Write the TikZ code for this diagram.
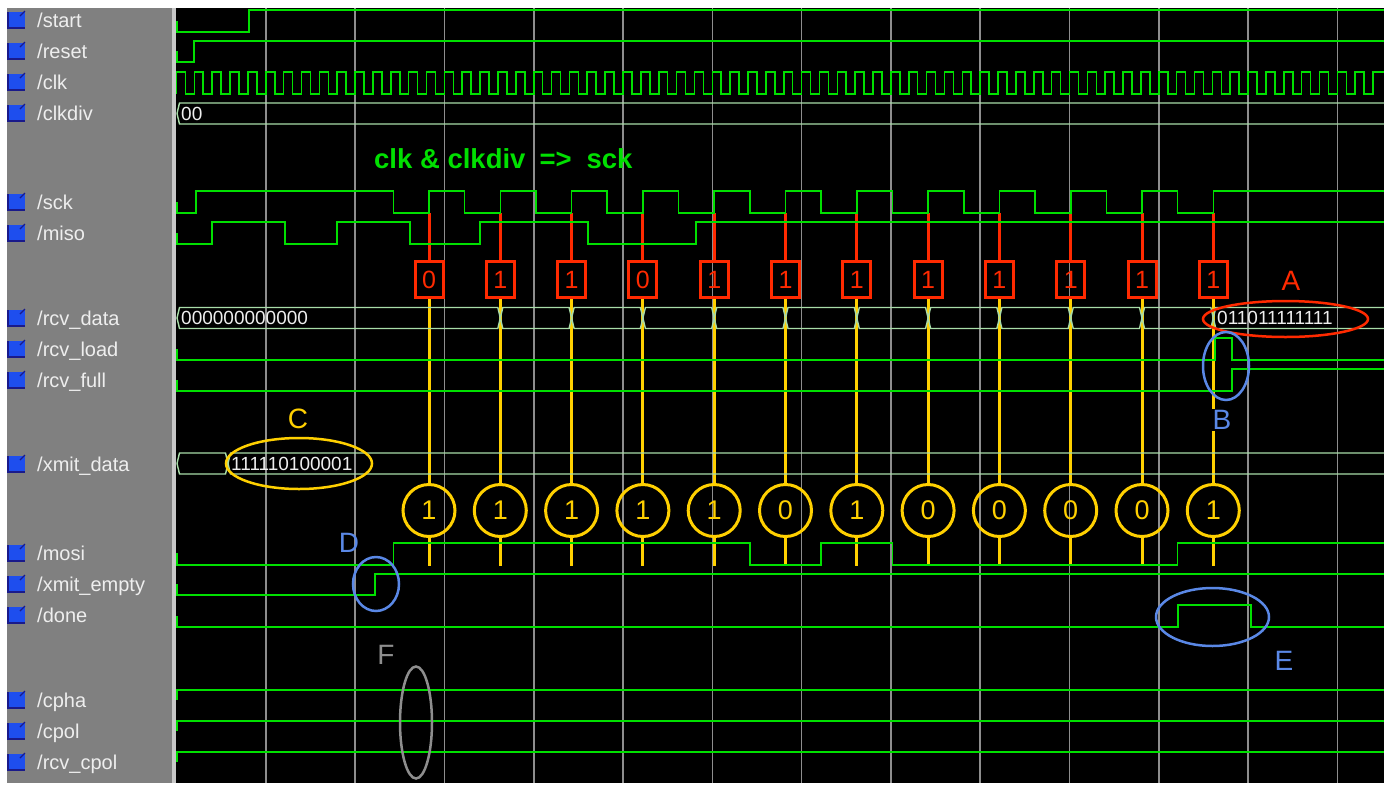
\documentclass[tikz,border=0pt]{standalone}
\usepackage{fontspec}
\setmainfont{Liberation Sans}
\usetikzlibrary{positioning}
\definecolor{signal}{HTML}{00E000}
\definecolor{busline}{HTML}{A8DCA8}
\definecolor{rxred}{HTML}{FF2A00}
\definecolor{txgold}{HTML}{FFD000}
\definecolor{note}{HTML}{5A88E6}
\definecolor{gridgray}{HTML}{8E8E8E}
\definecolor{panel}{HTML}{808080}
\definecolor{sepbar}{HTML}{C8C8C8}
\definecolor{icon}{HTML}{1E4EEE}
\definecolor{icondark}{HTML}{1A1A8A}
\definecolor{labeltext}{HTML}{EEEEEE}

\begin{document}
\begin{tikzpicture}[x=1pt, y=-1pt,
      w/.style={draw=signal, line width=1.6pt},
      b/.style={draw=busline, line width=1.4pt},
      gl/.style={draw=gridgray, line width=1.6pt},
      rx/.style={draw=rxred, line width=3pt, minimum width=28pt, minimum height=36pt,
                 inner sep=0pt, text=rxred, font=\fontsize{25}{25}\selectfont},
      tx/.style={circle, draw=txgold, line width=3pt, minimum size=52pt,
                 inner sep=0pt, text=txgold, font=\fontsize{27}{27}\selectfont},
      rl/.style={draw=rxred, line width=3pt},
      yl/.style={draw=txgold, line width=3pt},
      lbl/.style={anchor=base west, inner sep=0pt, text=labeltext,
                  font=\fontsize{20}{20}\selectfont},
      val/.style={anchor=west, inner sep=0pt, text=labeltext,
                  font=\fontsize{19}{19}\selectfont},
      tag/.style={inner sep=1pt, font=\fontsize{28}{28}\selectfont},
      ring/.style={line width=2.5pt}]
    \useasboundingbox (0,0) rectangle (1390,785);
    \fill[white] (0,0) rectangle (1390,785);
    \fill[panel] (7,8) rectangle (172,783);
    \fill[sepbar] (172,8) rectangle (176,783);
    \fill[black] (176,8) rectangle (1384,783);

    % signal names
    \foreach \yy/\nm in {20/start,51/reset,82/clk,113/clkdiv,202/sck,233/miso,
        318/rcv\_data,349/rcv\_load,380/rcv\_full,464/xmit\_data,553/mosi,
        584/xmit\_empty,615/done,700/cpha,731/cpol,762/rcv\_cpol}{
      \fill[icondark] (7,\yy-8) rectangle (25,\yy+9);
      \fill[icon] (9,\yy-8) rectangle (25,\yy+7);
      \draw[icondark, line width=1.2pt] (20,\yy-4) -- (25,\yy-9);
      \node[lbl] (n\yy) at (37,\yy+7.5) {/\nm};
    }

    % time grid
    \foreach \g in {1,...,13}
      \draw[gl] ({176.5+89.3*\g},8) -- ({176.5+89.3*\g},783);

    \node[anchor=west, inner sep=0pt, text=signal, font=\fontsize{27.5}{27.5}\selectfont\bfseries]
      (cap) at (374,159) {clk \& clkdiv\hspace{14pt}=>\hspace{15pt}sck};

    % sampled bits
    \foreach \r [count=\k] in {0,1,1,0,1,1,1,1,1,1,1,1}
      \node[rx] (rb\k) at ({429+71.3*(\k-1)},279.5) {\r};
    \foreach \t [count=\k] in {1,1,1,1,1,0,1,0,0,0,0,1}
      \node[tx] (tb\k) at ({429+71.3*(\k-1)},510.5) {\t};
    \foreach \k in {1,...,12}{
      \coordinate (sk\k) at ({429+71.3*(\k-1)},213);
      \coordinate (ms\k) at ({429+71.3*(\k-1)},566);
      \draw[rl] (sk\k) -- (rb\k);
      \draw[yl] (rb\k) -- (tb\k) (tb\k) -- (ms\k);
    }

    \begin{scope}
      \clip (176,8) rectangle (1384,783);
      % start, reset, clk
      \draw[w] (177,21) -- (177,32) -- (249,32) -- (249,10) -- (1384,10);
      \draw[w] (177,51) -- (177,62) -- (194,62) -- (194,41) -- (1384,41);
      \draw[w] (176.5,94) -- (176.5,72)
        \foreach \k in {0,...,66}{ -- ++(8.93,0) -- ++(0,22) -- ++(8.93,0) -- ++(0,-22) }
        -- (1384,72);
      % clkdiv
      \draw[b] (1384,103) -- (179.5,103) -- (177,113.5) -- (179.5,124) -- (1384,124);
      \node[val] (cdv) at (181,113.5) {00};
      % sck, miso
      \draw[w] (177,202) -- (177,213) -- (196,213) -- (196,191)
        \foreach \k in {0,...,11}{ -- ({393.35+71.3*\k},191) -- ++(0,22) -- ++(35.65,0) -- ++(0,-22) }
        -- (1384,191);
      \draw[w] (177,233) -- (177,244) -- (212,244) -- (212,222) -- (285,222) -- (285,244)
        -- (337,244) -- (337,222) -- (410,222) -- (410,244) -- (480,244) -- (480,222)
        -- (588,222) -- (588,244) -- (696,244) -- (696,222) -- (1384,222);
      % rcv_data
      \draw[b] (177,318) -- (179.5,307.5) -- (497.8,307.5) -- (500.3,318)
        -- (497.8,328.5) -- (179.5,328.5) -- cycle;
      \foreach \k in {1,...,10}
        \draw[b] ({429+71.3*\k},318) -- ++(2.5,-10.5) -- ({426.5+71.3*(\k+1)},307.5)
          -- ({429+71.3*(\k+1)},318) -- ({426.5+71.3*(\k+1)},328.5)
          -- ({431.5+71.3*\k},328.5) -- cycle;
      \draw[b] (1384,307.5) -- (1215.8,307.5) -- (1213.3,318) -- (1215.8,328.5) -- (1384,328.5);
      \node[val] (rcv0) at (181,318) {000000000000};
      \node[val] (rcv1) at (1217,318) {011011111111};
      % rcv_load, rcv_full
      \draw[w] (177,349) -- (177,360) -- (1215,360) -- (1215,338) -- (1232,338)
        -- (1232,360) -- (1384,360);
      \draw[w] (177,380) -- (177,391) -- (1232,391) -- (1232,369) -- (1384,369);
      % xmit_data
      \draw[b] (177,463.5) -- (179.5,453) -- (225.5,453) -- (228,463.5) -- (225.5,474)
        -- (179.5,474) -- cycle;
      \draw[b] (1384,453) -- (230.5,453) -- (228,463.5) -- (230.5,474) -- (1384,474);
      \node[val] (xmt) at (231,463.5) {111110100001};
      % mosi, xmit_empty, done
      \draw[w] (177,553) -- (177,565) -- (393.35,565) -- (393.35,543) -- (749.85,543)
        -- (749.85,565) -- (821.15,565) -- (821.15,543) -- (892.45,543) -- (892.45,565)
        -- (1177.65,565) -- (1177.65,543) -- (1384,543);
      \draw[w] (177,584) -- (177,595) -- (375,595) -- (375,574) -- (1384,574);
      \draw[w] (177,616) -- (177,627) -- (1178,627) -- (1178,605) -- (1251,605)
        -- (1251,627) -- (1384,627);
      % cpha, cpol, rcv_cpol
      \draw[w] (177,700) -- (177,690) -- (1384,690);
      \draw[w] (177,731) -- (177,721) -- (1384,721);
      \draw[w] (177,762) -- (177,752) -- (1384,752);
    \end{scope}

    % notes
    \draw[ring, rxred] (1285.5,319) ellipse (82.5 and 18);
    \draw[ring, note] (1226,366) ellipse (23 and 34);
    \draw[ring, txgold] (299,463.5) ellipse (73 and 25.5);
    \draw[ring, note] (376,584) ellipse (23 and 27);
    \draw[ring, note] (1212.5,617) ellipse (56.5 and 29);
    \draw[ring, gridgray] (416,722.5) ellipse (16 and 56);
    \node[tag, text=rxred] (tA) at (1291,281) {A};
    \node[tag, text=note, fill=black] (tB) at (1222,420) {B};
    \node[tag, text=txgold] (tC) at (298,419) {C};
    \node[tag, text=note] (tD) at (349,543) {D};
    \node[tag, text=note] (tE) at (1284,661) {E};
    \node[tag, text=gridgray] (tF) at (386,655) {F};
  \end{tikzpicture}
\end{document}
